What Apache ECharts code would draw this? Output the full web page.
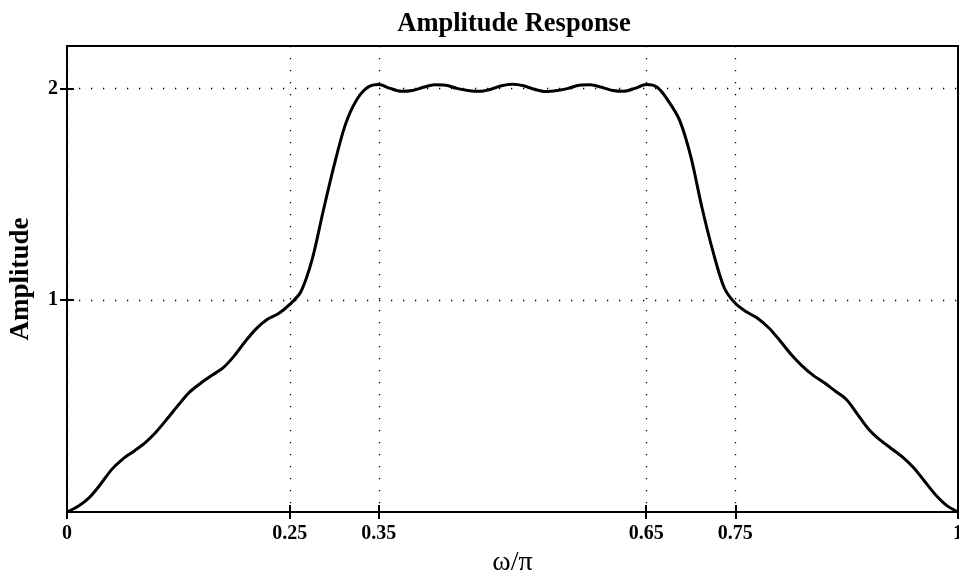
<!DOCTYPE html>
<html>
<head>
<meta charset="utf-8">
<script src="https://cdn.jsdelivr.net/npm/echarts@6/dist/echarts.min.js"></script>
<style>
  html, body { margin: 0; padding: 0; background: #fff; }
  #chart { width: 959px; height: 573px; }
</style>
</head>
<body>
<div id="chart"></div>
<script>
// normalised frequency (omega/pi) and amplitude
var freq = [0, 0.0125, 0.025, 0.0375, 0.05, 0.0625, 0.075, 0.0875, 0.1, 0.1125,
  0.125, 0.1375, 0.15, 0.1625, 0.175, 0.1875, 0.2, 0.2125, 0.225, 0.2375,
  0.25, 0.2625, 0.275, 0.2875, 0.3, 0.3125, 0.325, 0.3375, 0.35, 0.3625,
  0.375, 0.3875, 0.4, 0.4125, 0.425, 0.4375, 0.45, 0.4625, 0.475, 0.4875,
  0.5, 0.5125, 0.525, 0.5375, 0.55, 0.5625, 0.575, 0.5875, 0.6, 0.6125,
  0.625, 0.6375, 0.65, 0.6625, 0.675, 0.6875, 0.7, 0.7125, 0.725, 0.7375,
  0.75, 0.7625, 0.775, 0.7875, 0.8, 0.8125, 0.825, 0.8375, 0.85, 0.8625,
  0.875, 0.8875, 0.9, 0.9125, 0.925, 0.9375, 0.95, 0.9625, 0.975, 0.9875, 1];
var amp = [0, 0.027, 0.068, 0.13, 0.2, 0.25, 0.287, 0.326, 0.378, 0.44,
  0.505, 0.566, 0.608, 0.645, 0.68, 0.736, 0.805, 0.866, 0.91, 0.937,
  0.98, 1.04, 1.19, 1.42, 1.64, 1.83, 1.945, 2.005, 2.018, 2.0,
  1.986, 1.99, 2.005, 2.017, 2.015, 2.0, 1.99, 1.986, 1.995, 2.012,
  2.019, 2.012, 1.995, 1.985, 1.99, 2.0, 2.015, 2.017, 2.005, 1.99,
  1.986, 2.0, 2.018, 2.005, 1.94, 1.85, 1.68, 1.44, 1.23, 1.06,
  0.985, 0.945, 0.915, 0.87, 0.81, 0.745, 0.69, 0.645, 0.61, 0.57,
  0.53, 0.46, 0.39, 0.34, 0.3, 0.26, 0.21, 0.145, 0.08, 0.03, 0];

var xTicks = [0, 0.25, 0.35, 0.65, 0.75, 1];
var yTicks = [1, 2];

var points = [];
for (let i = 0; i < freq.length; i++) {
  points.push([freq[i], amp[i]]);
}

var chart = echarts.init(document.getElementById('chart'));

var dotted = {
  show: true,
  lineStyle: { color: '#000', width: 1.3, type: [1.3, 10.7] }
};
var tickStyle = { show: true, inside: true, length: 7, lineStyle: { color: '#000', width: 2 } };
var labelFont = {
  fontFamily: 'Liberation Serif',
  fontWeight: 'bold',
  fontSize: 20,
  color: '#000'
};

var option = {
  animation: false,
  backgroundColor: '#fff',
  title: {
    text: 'Amplitude Response',
    left: 509,
    top: 6,
    textAlign: 'center',
    textStyle: {
      fontFamily: 'Liberation Serif',
      fontWeight: 'bold',
      fontSize: 26.5,
      color: '#000'
    }
  },
  grid: {
    left: 67,
    right: 1,
    top: 46,
    bottom: 61,
    outerBoundsMode: 'none',
    containLabel: false,
    show: true,
    borderColor: '#000',
    borderWidth: 2
  },
  xAxis: [
    {
      type: 'value',
      min: 0,
      max: 1,
      name: 'ω/π',
      nameLocation: 'middle',
      nameGap: 36,
      nameTextStyle: { fontFamily: 'Liberation Serif', fontSize: 28, color: '#000' },
      axisLine: { show: true, lineStyle: { color: '#000', width: 2 } },
      axisTick: Object.assign({ customValues: xTicks }, tickStyle),
      axisLabel: Object.assign({ customValues: xTicks, margin: 12 }, labelFont),
      splitLine: dotted
    },
    {
      type: 'value',
      position: 'top',
      min: 0,
      max: 1,
      axisLine: { show: false },
      axisTick: Object.assign({ customValues: xTicks }, tickStyle),
      axisLabel: { show: false, customValues: xTicks },
      splitLine: { show: false }
    }
  ],
  yAxis: [
    {
      type: 'value',
      min: 0,
      max: 2.2,
      name: 'Amplitude',
      nameLocation: 'middle',
      nameGap: 32,
      nameTextStyle: {
        fontFamily: 'Liberation Serif',
        fontWeight: 'bold',
        fontSize: 27,
        color: '#000'
      },
      axisLine: { show: true, lineStyle: { color: '#000', width: 2 } },
      axisTick: Object.assign({ customValues: yTicks }, tickStyle),
      axisLabel: Object.assign({ customValues: yTicks, margin: 9 }, labelFont),
      splitLine: dotted
    },
    {
      type: 'value',
      position: 'right',
      min: 0,
      max: 2.2,
      axisLine: { show: false },
      axisTick: Object.assign({ customValues: yTicks }, tickStyle),
      axisLabel: { show: false, customValues: yTicks },
      splitLine: { show: false }
    }
  ],
  series: [
    {
      name: 'Amplitude',
      type: 'line',
      data: points,
      smooth: 0.3,
      showSymbol: false,
      lineStyle: { color: '#000', width: 3 },
      z: 5
    }
  ]
};

chart.setOption(option);
</script>
</body>
</html>
